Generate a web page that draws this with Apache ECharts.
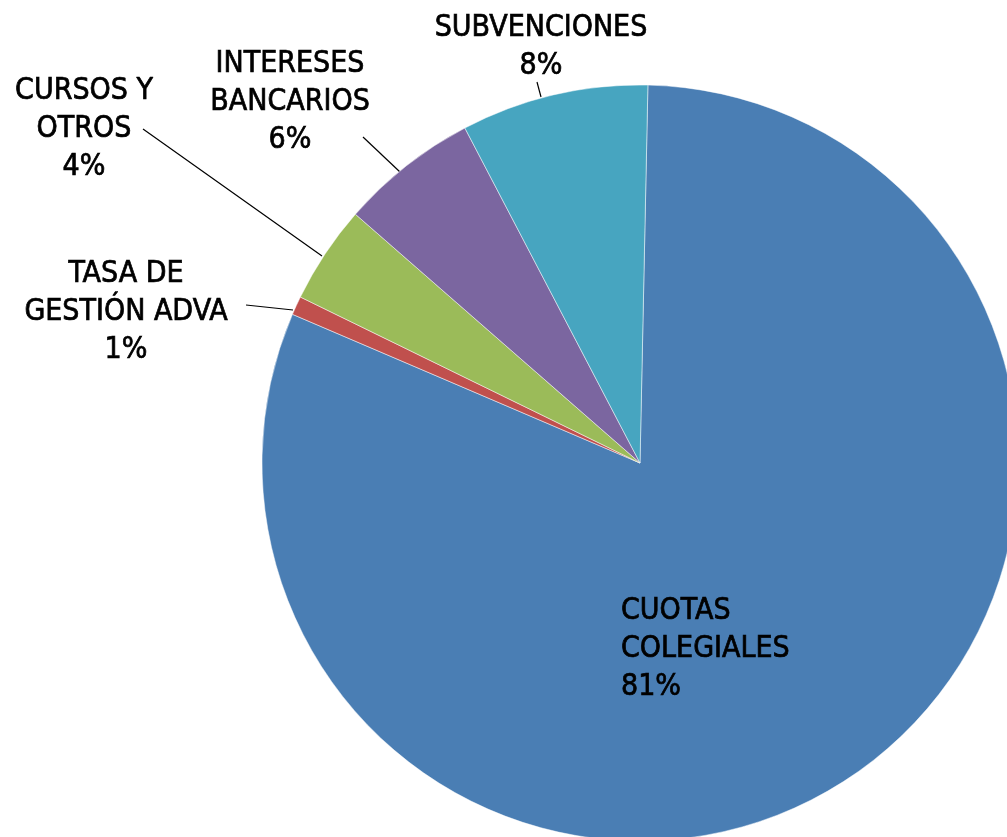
<!DOCTYPE html>
<html>
<head>
<meta charset="utf-8">
<style>html,body{margin:0;padding:0;background:#fff;}#c{width:1007px;height:837px;}</style>
<script src="https://cdn.jsdelivr.net/npm/echarts@6/dist/echarts.min.js"></script>
</head>
<body>
<div id="c"></div>
<script>
const categories = ['CUOTAS\nCOLEGIALES', 'TASA DE\nGESTIÓN ADVA', 'CURSOS Y\nOTROS', 'INTERESES\nBANCARIOS', 'SUBVENCIONES'];
const values = [81.1, 0.8, 4.2, 5.9, 8.0];
const colors = ['#4A7EB4', '#C0504D', '#9BBB59', '#7B66A0', '#47A5C0'];

// label anchor positions and leader line ends (layout only)
const labelPos = [
  {x: 621, y: 649, align: 'left'},
  {x: 126, y: 312, align: 'center', line: [[293, 310], [269.5, 307.5], [246, 305]]},
  {x: 84, y: 129, align: 'center', line: [[322, 256], [232.5, 192.5], [143, 129]]},
  {x: 290, y: 102, align: 'center', line: [[400, 172], [381.5, 154.5], [363, 137]]},
  {x: 541, y: 47, align: 'center', line: [[541, 97], [539, 89.5], [537, 82]]}
];

const chart = echarts.init(document.getElementById('c'));
chart.setOption({
  animation: false,
  series: [{
    type: 'pie',
    center: [640, 463],
    radius: 378,
    startAngle: 88.8,
    clockwise: true,
    percentPrecision: 0,
    data: categories.map((c, i) => ({
      name: c,
      value: values[i],
      itemStyle: {color: colors[i]},
      labelLine: {show: i !== 0}
    })),
    itemStyle: {borderColor: 'rgba(255,255,255,0.6)', borderWidth: 0.8},
    label: {
      show: true,
      formatter: '{b}\n{d}%',
      fontFamily: 'DejaVu Sans Condensed',
      fontSize: 30,
      lineHeight: 38,
      color: '#000',
      textBorderColor: '#000',
      textBorderWidth: 0.7,
      overflow: 'none'
    },
    labelLine: {show: true, smooth: false, lineStyle: {color: '#000', width: 1.2}},
    labelLayout: function (p) {
      const lp = labelPos[p.dataIndex];
      const r = {x: lp.x, y: lp.y, align: lp.align, verticalAlign: 'middle'};
      if (lp.line) r.labelLinePoints = lp.line;
      return r;
    }
  }]
});
</script>
</body>
</html>
